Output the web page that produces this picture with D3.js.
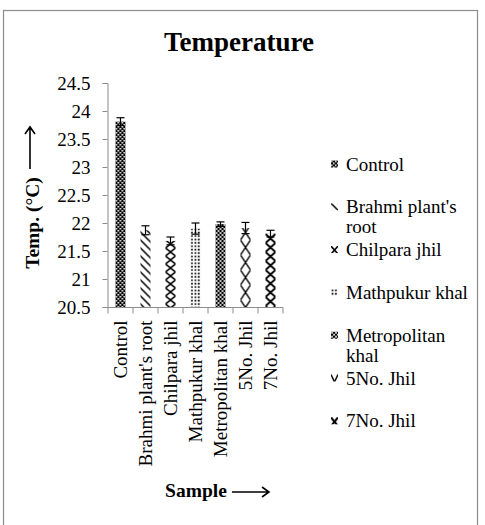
<!DOCTYPE html>
<html>
<head>
<meta charset="utf-8">
<script src="https://cdn.jsdelivr.net/npm/d3@7"></script>
<style>
  body { margin: 0; background: #fff; }
  text { font-family: "Liberation Serif", "Times New Roman", serif; fill: #000; }
</style>
</head>
<body>
<div id="chart"></div>
<script>
const categories = ["Control", "Brahmi plant's root", "Chilpara jhil", "Mathpukur khal", "Metropolitan khal", "5No. Jhil", "7No. Jhil"];
const temps = [23.81, 21.87, 21.68, 21.9, 21.98, 21.91, 21.81];
const errs = [0.07, 0.08, 0.07, 0.1, 0.04, 0.1, 0.06];
const fills = ["checker", "diag", "lattice", "dots", "checker2", "bigX", "zigzag"];
const yTicks = [20.5, 21, 21.5, 22, 22.5, 23, 23.5, 24, 24.5];

const W = 485, H = 525;
const plot = { left: 108, right: 283, top: 83, bottom: 307 };

const svg = d3.select("#chart").append("svg").attr("width", W).attr("height", H);
const defs = svg.append("defs");

svg.append("rect")
  .attr("x", 3.5).attr("y", 10.5)
  .attr("width", 474).attr("height", 530)
  .attr("fill", "#fff").attr("stroke", "#8c8c8c").attr("stroke-width", 1.2);

// pattern fills, one per bar / legend key so the tiles line up with the shape
function addPattern(id, kind, x0, y0, w) {
  const sizes = {
    checker: [4, 4], diag: [8, 8], lattice: [w, 8], dots: [3.4, 3.4],
    checker2: [4, 4], bigX: [w, 15], zigzag: [w, 9]
  };
  const [pw, ph] = sizes[kind];
  const p = defs.append("pattern")
    .attr("id", id)
    .attr("patternUnits", "userSpaceOnUse")
    .attr("x", x0).attr("y", y0)
    .attr("width", pw).attr("height", ph);

  if (kind === "checker" || kind === "checker2") {
    p.append("rect").attr("width", pw).attr("height", ph).attr("fill", "#000");
    if (kind === "checker") {
      p.append("rect").attr("x", 0).attr("y", 0).attr("width", 1.6).attr("height", 1.6).attr("fill", "#fff");
      p.append("rect").attr("x", 2).attr("y", 2).attr("width", 1.6).attr("height", 1.6).attr("fill", "#fff");
    } else {
      p.append("circle").attr("cx", 1).attr("cy", 1).attr("r", 1).attr("fill", "#fff");
      p.append("circle").attr("cx", 3).attr("cy", 3).attr("r", 1).attr("fill", "#fff");
    }
    return;
  }
  p.append("rect").attr("width", pw).attr("height", ph).attr("fill", "#fff");
  if (kind === "diag") {
    p.append("path")
      .attr("d", `M-2,-2L${pw + 2},${ph + 2}M-2,${ph - 2}L2,${ph + 2}M${pw - 2},-2L${pw + 2},2`)
      .attr("stroke", "#000").attr("stroke-width", 1.5);
  } else if (kind === "dots") {
    p.append("rect").attr("x", 0.6).attr("y", 0.6).attr("width", 1.7).attr("height", 1.7).attr("fill", "#000");
  } else {
    const sw = kind === "lattice" ? 1.6 : kind === "bigX" ? 1.4 : 2;
    p.append("path")
      .attr("d", `M0,0L${pw},${ph}M${pw},0L0,${ph}`)
      .attr("stroke", "#000").attr("stroke-width", sw).attr("fill", "none");
  }
}

const x = d3.scaleBand().domain(categories).range([plot.left, plot.right]).padding(0);
const y = d3.scaleLinear().domain([20.5, 24.5]).range([plot.bottom, plot.top]);
const barW = x.bandwidth() * 0.4;

// y axis
const yAxis = svg.append("g")
  .attr("transform", `translate(${plot.left - 0.5},0)`)
  .call(d3.axisLeft(y).tickValues(yTicks).tickSize(5).tickPadding(12).tickFormat((d) => String(d)));
yAxis.select(".domain").attr("stroke", "#8c8c8c");
yAxis.selectAll(".tick line").attr("stroke", "#8c8c8c");
yAxis.selectAll(".tick text").attr("font-size", 19).attr("font-family", "Liberation Serif");

// x axis: ticks sit on the category boundaries
const xAxis = svg.append("g").attr("transform", `translate(0,${plot.bottom + 0.5})`);
xAxis.append("line")
  .attr("x1", plot.left - 1).attr("x2", plot.right)
  .attr("stroke", "#8c8c8c");
xAxis.selectAll(".xt")
  .data(d3.range(categories.length + 1))
  .join("line")
  .attr("class", "xt")
  .attr("x1", (i) => (i < categories.length ? x(categories[i]) : plot.right))
  .attr("x2", (i) => (i < categories.length ? x(categories[i]) : plot.right))
  .attr("y1", 0).attr("y2", 6)
  .attr("stroke", "#8c8c8c");
xAxis.selectAll(".xl")
  .data(categories)
  .join("text")
  .attr("class", "xl")
  .attr("transform", (d) => `translate(${x(d) + x.bandwidth() / 2},13) rotate(-90)`)
  .attr("text-anchor", "end")
  .attr("dy", "0.35em")
  .attr("font-size", 19)
  .text((d) => d);

// bars
const bars = svg.append("g");
categories.forEach((c, i) => {
  const bx = x(c) + (x.bandwidth() - barW) / 2;
  addPattern(`pat-bar-${i}`, fills[i], bx, 0, barW);
  bars.append("rect")
    .attr("x", bx)
    .attr("y", y(temps[i]))
    .attr("width", barW)
    .attr("height", y(20.5) - y(temps[i]))
    .attr("fill", `url(#pat-bar-${i})`);
});

// error bars
const eb = svg.append("g").attr("stroke", "#000").attr("stroke-width", 1.2);
categories.forEach((c, i) => {
  const cx = x(c) + x.bandwidth() / 2;
  const hi = y(temps[i] + errs[i]), lo = y(temps[i] - errs[i]);
  eb.append("line").attr("x1", cx).attr("x2", cx).attr("y1", hi).attr("y2", lo);
  eb.append("line").attr("x1", cx - 4).attr("x2", cx + 4).attr("y1", hi).attr("y2", hi);
  eb.append("line").attr("x1", cx - 4).attr("x2", cx + 4).attr("y1", lo).attr("y2", lo);
});

// title
svg.append("text")
  .attr("x", 239).attr("y", 51)
  .attr("text-anchor", "middle")
  .attr("font-size", 27).attr("font-weight", "bold")
  .text("Temperature");

// y title with arrow
svg.append("text")
  .attr("transform", "translate(39,223) rotate(-90)")
  .attr("text-anchor", "middle")
  .attr("font-size", 19.5).attr("font-weight", "bold")
  .text("Temp. (°C)");
svg.append("path")
  .attr("d", "M30,169V127M25,134L30,127L35,134")
  .attr("stroke", "#000").attr("stroke-width", 1.6).attr("fill", "none");

// x title with arrow
svg.append("text")
  .attr("x", 196).attr("y", 497)
  .attr("text-anchor", "middle")
  .attr("font-size", 19.5).attr("font-weight", "bold")
  .text("Sample");
svg.append("path")
  .attr("d", "M232,492H269M262,487L269,492L262,497")
  .attr("stroke", "#000").attr("stroke-width", 1.6).attr("fill", "none");

// legend
const legend = svg.append("g");
const legX = 346, legY0 = 164, legStep = 42.8, maxW = 128;
categories.forEach((c, i) => {
  const cy = legY0 + i * legStep;
  addPattern(`pat-leg-${i}`, fills[i], 331, cy - 3.5, 7);
  legend.append("rect")
    .attr("x", 331).attr("y", cy - 3.5)
    .attr("width", 7).attr("height", 7)
    .attr("fill", `url(#pat-leg-${i})`);

  const t = legend.append("text").attr("x", legX).attr("y", cy).attr("dy", "0.35em").attr("font-size", 19);
  // wrap the label to the legend width
  const words = c.split(" ");
  let line = [];
  let tspan = t.append("tspan").attr("x", legX);
  words.forEach((w) => {
    line.push(w);
    tspan.text(line.join(" "));
    if (tspan.node().getComputedTextLength() > maxW && line.length > 1) {
      line.pop();
      tspan.text(line.join(" "));
      line = [w];
      tspan = t.append("tspan").attr("x", legX).attr("dy", 20).text(w);
    }
  });
});
</script>
</body>
</html>
